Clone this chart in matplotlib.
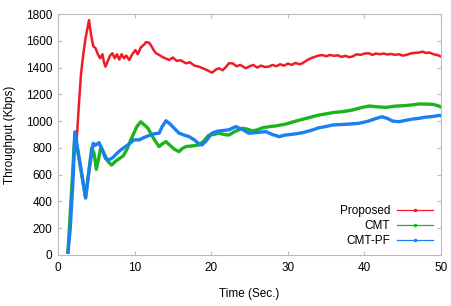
import matplotlib
matplotlib.use("Agg")
import matplotlib.pyplot as plt
from matplotlib.lines import Line2D

plt.rcParams['font.family'] = ['Liberation Sans', 'DejaVu Sans']

# Proposed
t_prop = [2.4, 2.7, 3.0, 3.3, 3.6, 3.8, 4.05, 4.3, 4.6, 4.9, 5.2, 5.5, 5.8, 6.0, 6.2,
          6.5, 6.8, 7.1, 7.4, 7.7, 8.0, 8.3, 8.6, 8.9, 9.3, 9.7, 10.1, 10.4, 10.8, 11.2,
          11.5, 11.9, 12.2, 12.5, 12.8, 13.2, 13.6, 14.0, 14.5, 15.0, 15.5, 16.0, 16.7,
          17.2, 17.8, 18.4, 18.9, 19.5, 20.1, 20.6, 21.0, 21.5, 22.0, 22.3, 22.8, 23.3,
          23.8, 24.5, 25.0, 25.5, 26.0, 26.5, 27.0, 27.5, 28.0, 28.5, 29.0, 29.5, 30.0,
          30.5, 31.0, 31.5, 31.9, 32.5, 33.0, 33.5, 34.0, 34.5, 35.0, 35.5, 36.0, 36.5,
          37.0, 37.5, 38.0, 38.4, 39.0, 39.5, 40.0, 40.6, 41.0, 41.5, 42.0, 42.5, 43.0,
          43.5, 44.0, 44.5, 45.0, 45.4, 46.0, 46.5, 47.0, 47.6, 48.0, 48.5, 49.0, 49.5, 50.0]
y_prop = [820, 1100, 1350, 1500, 1620, 1680, 1755, 1650, 1560, 1545, 1500, 1470, 1500, 1440,
          1407, 1450, 1490, 1507, 1470, 1500, 1460, 1500, 1470, 1490, 1457, 1500, 1531, 1500,
          1550, 1570, 1590, 1586, 1560, 1530, 1507, 1495, 1480, 1470, 1457, 1475, 1450, 1455,
          1432, 1440, 1415, 1407, 1395, 1380, 1362, 1385, 1395, 1380, 1410, 1432, 1432, 1410,
          1420, 1395, 1410, 1420, 1400, 1415, 1405, 1407, 1420, 1410, 1425, 1415, 1430, 1420,
          1435, 1425, 1432, 1455, 1470, 1480, 1490, 1494, 1485, 1495, 1488, 1492, 1480, 1488,
          1478, 1482, 1500, 1495, 1505, 1507, 1495, 1505, 1500, 1505, 1498, 1502, 1495, 1500,
          1490, 1494, 1505, 1510, 1512, 1519, 1510, 1512, 1500, 1495, 1482]

# CMT
t_cmt = [1.3, 2.2, 3.6, 4.4, 4.7, 5.0, 5.3, 5.6, 6.0, 6.5, 7.0, 7.5, 8.0, 8.5, 9.0, 9.5,
         9.9, 10.3, 10.8, 11.2, 11.7, 12.2, 12.7, 13.2, 13.6, 14.1, 14.6, 15.2, 15.8, 16.2,
         16.7, 17.5, 18.4, 19.0, 19.7, 20.3, 21.0, 21.7, 22.3, 23.0, 23.6, 24.1, 24.7, 25.4,
         26.0, 26.7, 27.5, 28.5, 29.7, 31.0, 32.0, 33.0, 34.1, 35.0, 36.0, 37.0, 38.4, 39.5,
         40.6, 41.5, 42.8, 44.0, 45.0, 46.0, 47.1, 48.0, 49.0, 49.7, 50.0]
y_cmt = [20, 900, 430, 800, 760, 640, 720, 810, 760, 700, 672, 700, 720, 740, 790, 860,
         910, 960, 995, 975, 950, 900, 850, 810, 830, 847, 820, 790, 772, 795,
         810, 815, 822, 850, 896, 900, 910, 900, 896, 920, 935, 947, 940, 927,
         935, 950, 958, 965, 978, 1000, 1015, 1030, 1046, 1055, 1065, 1070, 1083, 1100,
         1113, 1108, 1103, 1112, 1115, 1120, 1128, 1128, 1125, 1113, 1105]

# CMT-PF
t_pf = [1.3, 1.6, 2.0, 2.2, 2.9, 3.6, 4.1, 4.6, 4.9, 5.35, 5.8, 6.2, 6.65, 7.2, 7.7, 8.2,
        8.8, 9.3, 9.9, 10.6, 11.3, 12.0, 12.5, 13.2, 13.6, 14.1, 14.6, 15.2, 15.8, 16.5,
        17.1, 17.8, 18.4, 18.8, 19.3, 20.1, 20.8, 21.5, 22.3, 23.2, 24.0, 24.9, 26.0, 27.1,
        28.0, 28.9, 29.5, 30.3, 31.0, 31.9, 33.0, 34.0, 35.0, 35.8, 37.0, 38.0, 39.3, 40.5,
        41.5, 42.3, 43.0, 43.7, 44.5, 45.3, 46.2, 47.1, 48.0, 49.0, 49.7, 50.0]
y_pf = [20, 200, 600, 920, 680, 425, 650, 835, 820, 840, 780, 720, 710, 730, 760, 785,
        810, 830, 860, 860, 880, 895, 905, 910, 960, 1003, 980, 945, 910, 895,
        885, 860, 830, 822, 850, 910, 925, 930, 935, 959, 940, 910, 915, 922,
        900, 884, 895, 900, 905, 914, 930, 950, 960, 971, 975, 978, 984, 1000,
        1020, 1033, 1020, 1000, 996, 1005, 1015, 1021, 1030, 1035, 1043, 1040]

names = ['Proposed', 'CMT', 'CMT-PF']
colors = ['#ee1c24', '#1db31d', '#1a7ff0']

fig = plt.figure(figsize=(4.51, 3.06), dpi=100)
ax = fig.add_axes([0.1286, 0.1667, 0.8494, 0.7873])

ax.plot(t_prop, y_prop, color=colors[0], lw=1.8)
ax.plot(t_cmt, y_cmt, color=colors[1], lw=2.4)
ax.plot(t_pf, y_pf, color=colors[2], lw=2.4)

ax.set_xlim(0, 50)
ax.set_ylim(0, 1800)
ax.set_xticks(range(0, 51, 10))
ax.set_yticks(range(0, 1801, 200))
ax.tick_params(direction='in', length=3, top=True, right=True, color='#bbbbbb',
               labelsize=8.5)
ax.tick_params(axis='y', pad=4)
ax.tick_params(axis='x', pad=5)
for s in ax.spines.values():
    s.set_color('#bbbbbb')

ax.set_xlabel('Time (Sec.)', fontsize=8.5, labelpad=10)
ax.set_ylabel('Throughput (Kbps)', fontsize=8.5, labelpad=7)

handles = [Line2D([], [], color=c, lw=0.9, marker='.', ms=3) for c in colors]
ax.legend(handles, names, loc='lower right', frameon=False, markerfirst=False,
          fontsize=8.5, numpoints=1, handlelength=3, labelspacing=0.25,
          borderaxespad=0.3, handletextpad=0.6)

fig.savefig('out.png', dpi=100)
